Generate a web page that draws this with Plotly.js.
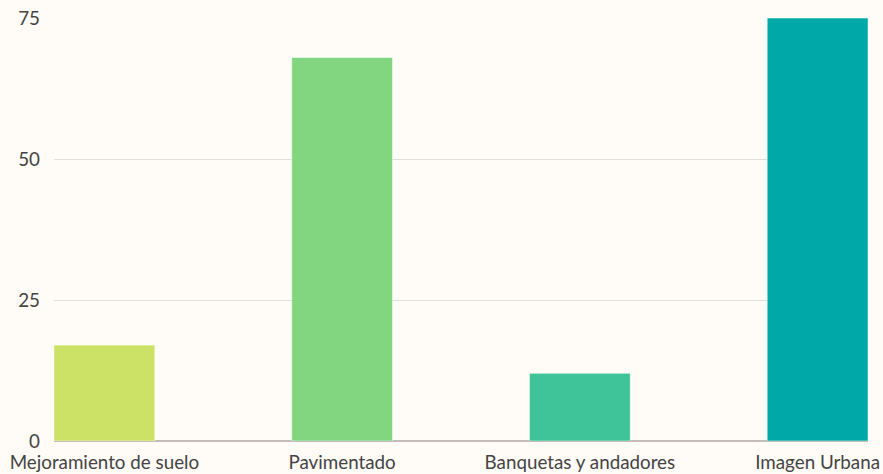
<!DOCTYPE html>
<html><head><meta charset="utf-8">
<script src="https://cdn.plot.ly/plotly-3.0.1.min.js"></script>
<style>html,body{margin:0;padding:0;background:#FFFBF6;}</style>
</head><body>
<div id="chart" style="width:883px;height:474px;"></div>
<script>
const categories = ["Mejoramiento de suelo", "Pavimentado", "Banquetas y andadores", "Imagen Urbana"];
const values = [17, 68, 12, 75];
const colors = ["#CBE266", "#81D67F", "#3EC498", "#00A9A8"];
const yTicks = [0, 25, 50, 75];

Plotly.newPlot("chart", [{
  type: "bar",
  x: categories,
  y: values,
  width: 0.424,
  marker: {color: colors, line: {color: "rgba(255,255,255,0.5)", width: 1}},
  hoverinfo: "x+y"
}], {
  width: 883, height: 474,
  margin: {l: 54, r: 15, t: 18, b: 33},
  paper_bgcolor: "#FFFBF6",
  plot_bgcolor: "#FFFBF6",
  font: {family: "Lato, sans-serif", size: 18.8, color: "#444444"},
  showlegend: false,
  xaxis: {
    type: "category",
    range: [-0.212, 3.212],
    showgrid: false,
    showline: false,
    zeroline: false,
    ticks: "",
    ticklabelstandoff: 8,
    tickfont: {size: 18.8, color: "#444444"}
  },
  yaxis: {
    range: [0, 75],
    tickvals: yTicks,
    ticktext: yTicks.map(String),
    showgrid: true,
    gridcolor: "#E3DEDA",
    gridwidth: 1,
    zeroline: true,
    zerolinecolor: "#C4BCB8",
    zerolinewidth: 2,
    showline: false,
    ticks: "",
    ticklabelstandoff: 13,
    tickfont: {size: 18.8, color: "#444444"}
  }
}, {displayModeBar: false, staticPlot: true});
</script>
</body></html>
